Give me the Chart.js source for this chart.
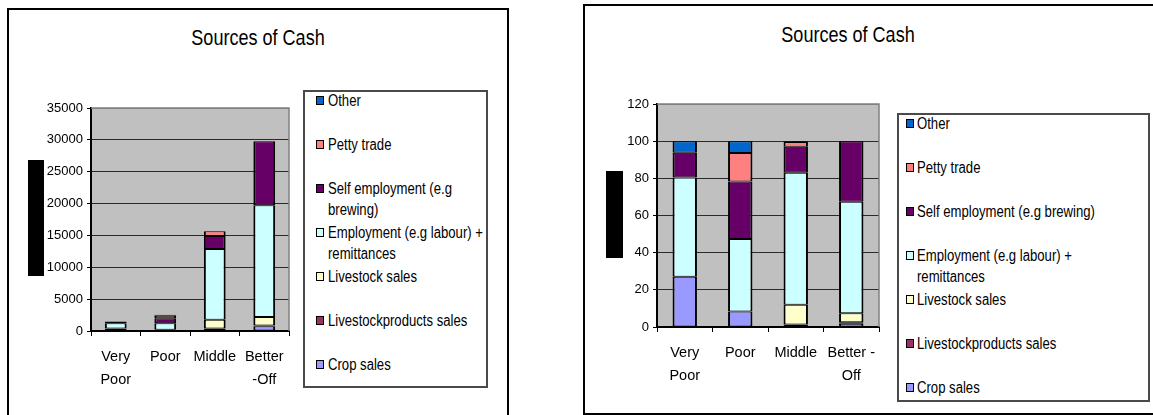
<!DOCTYPE html>
<html>
<head>
<meta charset="utf-8">
<title>Sources of Cash</title>
<script src="https://cdn.jsdelivr.net/npm/chart.js@4.4.1/dist/chart.umd.min.js"></script>
<style>
  html, body { margin: 0; padding: 0; background: #fff; }
  body { width: 1153px; height: 415px; position: relative; overflow: hidden;
         font-family: 'Liberation Sans', Arial, sans-serif; }
  .panel { position: absolute; border: 2px solid #000; box-sizing: border-box; }
  .wrap { position: absolute; }
  .title { position: absolute; font-size: 22px; color: #000; white-space: nowrap;
           transform: translate(-50%, -50%) scaleX(0.82); }
  .axisBlock { position: absolute; background: #000; }
  .legend { position: absolute; border: 2px solid #4a4a4a; box-sizing: border-box; background: #fff; }
  .legend .row { position: absolute; font-size: 16px; line-height: 21px; color: #000;
                 transform: scaleX(0.82); transform-origin: 0 0; }
  .legend .swatch { position: absolute; width: 6px; height: 7px; border: 1px solid #000; }
</style>
</head>
<body>

<div class="panel" style="left:7px; top:8px; width:502px; height:420px;"></div>
<div class="panel" style="left:583px; top:4px; width:580px; height:411px;"></div>

<div class="title" style="left:258px; top:38px;">Sources of Cash</div>
<div class="title" style="left:848px; top:35px;">Sources of Cash</div>

<div class="axisBlock" style="left:28px; top:160px; width:16px; height:116px;"></div>
<div class="axisBlock" style="left:606px; top:171px; width:17px; height:87px;"></div>

<div class="wrap" style="left:9px; top:10px;"><canvas id="cashChart" width="497" height="405"></canvas></div>
<div class="wrap" style="left:586px; top:7px;"><canvas id="shareChart" width="567" height="405"></canvas></div>

<div class="legend" id="cashLegend" style="left:303px; top:90px; width:185px; height:298px;"></div>
<div class="legend" id="shareLegend" style="left:897px; top:113px; width:253px; height:289px;"></div>

<script>
// Wealth groups
const categories = ['Very Poor', 'Poor', 'Middle', 'Better-Off'];
const cashTickLabels = [['Very', 'Poor'], 'Poor', 'Middle', ['Better', '-Off']];
const shareTickLabels = [['Very', 'Poor'], 'Poor', 'Middle', ['Better -', 'Off']];

const seriesNames = [
    'Crop sales',
    'Livestockproducts sales',
    'Livestock sales',
    'Employment (e.g labour) + remittances',
    'Self employment (e.g brewing)',
    'Petty trade',
    'Other'
];

// Annual cash income by source
const cropSales = [400, 200, 0, 730];
const livestockProductSales = [0, 0, 400, 150];
const livestockSales = [0, 0, 1380, 1320];
const employment = [800, 1000, 11090, 17525];
const selfEmployment = [200, 800, 2040, 10045];
const pettyTrade = [0, 380, 730, 0];
const other = [100, 170, 0, 0];

// Share of cash income by source (%)
const cropPct = [27, 8.3, 0, 1.8];
const livestockProductPct = [0, 0, 1.4, 0.8];
const livestockPct = [0, 0, 10.6, 4.8];
const employmentPct = [53.5, 39, 71, 60];
const selfEmploymentPct = [13.3, 31, 14, 32.6];
const pettyTradePct = [0, 15.3, 2.5, 0];
const otherPct = [6.2, 6.4, 0.5, 0];

const cashTicks = [0, 5000, 10000, 15000, 20000, 25000, 30000, 35000];
const shareTicks = [0, 20, 40, 60, 80, 100, 120];

const seriesColors = ['#9999FF', '#993366', '#FFFFCC', '#CCFFFF', '#660066', '#FF8080', '#0066CC'];
const FONT = "'Liberation Sans', Arial, sans-serif";
const TEXT_SQUEEZE = 0.82;

// Grey plot area with a soft outline, like an Excel 2003 chart
const plotBackground = {
    id: 'plotBackground',
    beforeDraw(chart) {
        const a = chart.chartArea;
        const ctx = chart.ctx;
        ctx.save();
        ctx.fillStyle = '#C0C0C0';
        ctx.fillRect(a.left, a.top, a.right - a.left, a.bottom - a.top);
        ctx.restore();
    },
    beforeDatasetsDraw(chart) {
        const a = chart.chartArea;
        const ctx = chart.ctx;
        ctx.save();
        ctx.strokeStyle = '#808080';
        ctx.lineWidth = 1.5;
        ctx.beginPath();
        ctx.moveTo(a.left, a.top);
        ctx.lineTo(a.right, a.top);
        ctx.lineTo(a.right, a.bottom);
        ctx.stroke();
        ctx.restore();
    }
};

function makeDatasets(valueLists) {
    return valueLists.map((values, i) => ({
        label: seriesNames[i],
        data: values,
        backgroundColor: seriesColors[i],
        borderColor: '#000',
        borderWidth: { top: 1, bottom: 1, left: 2, right: 2 },
        borderSkipped: false,
        barPercentage: 0.44,
        categoryPercentage: 1
    }));
}

function makeChart(canvasId, tickLabels, valueLists, ticks, padding) {
    const maxTick = ticks[ticks.length - 1];
    return new Chart(document.getElementById(canvasId), {
        type: 'bar',
        data: {
            labels: tickLabels,
            datasets: makeDatasets(valueLists)
        },
        options: {
            responsive: false,
            animation: false,
            layout: { padding: padding },
            plugins: {
                legend: { display: false },
                title: { display: false },
                tooltip: { enabled: false }
            },
            scales: {
                x: {
                    stacked: true,
                    afterFit(scale) { scale.height = 60; },
                    border: { color: '#000', width: 2 },
                    grid: {
                        offset: true,
                        drawOnChartArea: false,
                        tickLength: 5,
                        tickColor: '#000',
                        color: '#000'
                    },
                    ticks: {
                        color: '#000',
                        padding: 9,
                        maxRotation: 0,
                        autoSkip: false,
                        font: { family: FONT, size: 14.5, lineHeight: 1.6 }
                    }
                },
                y: {
                    stacked: true,
                    min: 0,
                    max: maxTick,
                    afterFit(scale) { scale.width = 50; },
                    afterBuildTicks(scale) {
                        scale.ticks = ticks.map(v => ({ value: v }));
                    },
                    border: { color: '#000', width: 2 },
                    grid: {
                        color: ctx => (ctx.tick && ctx.tick.value === maxTick) ? '#808080' : '#2a2a2a',
                        tickColor: '#000',
                        tickLength: 4,
                        lineWidth: 1
                    },
                    ticks: {
                        color: '#000',
                        padding: 4,
                        callback: v => String(v),
                        font: { family: FONT, size: 13 }
                    }
                }
            }
        },
        plugins: [plotBackground]
    });
}

// Boxed legend, listed top-down in reverse stacking order
function buildLegend(chart, el, firstCenter, swatchX, textX, textWidth) {
    const box = el.getBoundingClientRect();
    const boxTop = box.top + 2;
    const boxLeft = box.left + 2;
    const items = chart.data.datasets.slice().reverse();
    items.forEach((ds, i) => {
        const center = firstCenter + 44 * i;
        const sw = document.createElement('div');
        sw.className = 'swatch';
        sw.style.background = ds.backgroundColor;
        sw.style.left = (swatchX - boxLeft) + 'px';
        sw.style.top = (center - 4.5 - boxTop) + 'px';
        el.appendChild(sw);

        const row = document.createElement('div');
        row.className = 'row';
        row.textContent = ds.label;
        row.style.left = (textX - boxLeft) + 'px';
        row.style.top = (center - 10.5 - boxTop) + 'px';
        row.style.width = (textWidth / TEXT_SQUEEZE) + 'px';
        el.appendChild(row);
    });
}

const cashChart = makeChart('cashChart', cashTickLabels,
    [cropSales, livestockProductSales, livestockSales, employment, selfEmployment, pettyTrade, other],
    cashTicks, { left: 32, right: 217, top: 98, bottom: 24 });

const shareChart = makeChart('shareChart', shareTickLabels,
    [cropPct, livestockProductPct, livestockPct, employmentPct, selfEmploymentPct, pettyTradePct, otherPct],
    shareTicks, { left: 21, right: 274, top: 97, bottom: 25 });

buildLegend(cashChart, document.getElementById('cashLegend'), 100, 316, 328, 160);
buildLegend(shareChart, document.getElementById('shareLegend'), 123, 906, 917, 205);
</script>
</body>
</html>
